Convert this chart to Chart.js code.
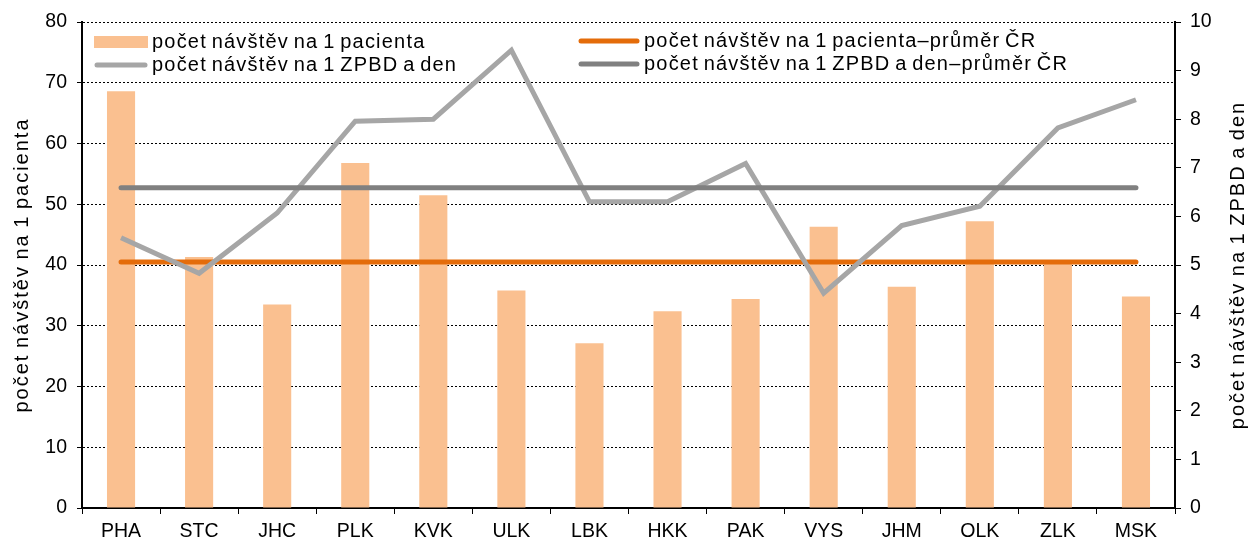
<!DOCTYPE html>
<html>
<head>
<meta charset="utf-8">
<script src="https://cdn.jsdelivr.net/npm/chart.js@4.4.1/dist/chart.umd.min.js"></script>
<style>
  html, body { margin: 0; padding: 0; background: #fff; }
  #wrap { width: 1253px; height: 547px; position: relative; }
</style>
</head>
<body>
<div id="wrap"><canvas id="chart" width="1253" height="547"></canvas></div>
<script>
const categories = ['PHA', 'STC', 'JHC', 'PLK', 'KVK', 'ULK', 'LBK', 'HKK', 'PAK', 'VYS', 'JHM', 'OLK', 'ZLK', 'MSK'];
const visitsPerPatient = [68.6, 41.3, 33.5, 56.8, 51.5, 35.8, 27.1, 32.4, 34.4, 46.3, 36.4, 47.2, 40.3, 34.8];
const visitsPerBedDay = [5.56, 4.83, 6.07, 7.96, 8.0, 9.42, 6.3, 6.3, 7.09, 4.42, 5.81, 6.21, 7.82, 8.4];
const avgPerPatient = 40.5;   // průměr ČR
const avgPerBedDay = 6.59;    // průměr ČR
const leftTicks = [0, 10, 20, 30, 40, 50, 60, 70, 80];
const rightTicks = [0, 1, 2, 3, 4, 5, 6, 7, 8, 9, 10];

const FONT = '"Liberation Sans", Arial, sans-serif';
const BAR = '#fac090';
const ORANGE = '#e46c0a';
const LIGHT_GREY = '#a6a6a6';
const DARK_GREY = '#808080';

const legendItems = [
  { text: 'počet návštěv na 1 pacienta', kind: 'box', color: BAR, x: 94, w: 54, y: 42 },
  { text: 'počet návštěv na 1 ZPBD a den', kind: 'line', color: LIGHT_GREY, x: 94, w: 54, y: 65 },
  { text: 'počet návštěv na 1 pacienta–průměr ČR', kind: 'line', color: ORANGE, x: 578, w: 62, y: 41 },
  { text: 'počet návštěv na 1 ZPBD a den–průměr ČR', kind: 'line', color: DARK_GREY, x: 578, w: 62, y: 64 },
];

// legend + axis titles drawn by hand (2-column legend, both titles read bottom-up)
const extras = {
  id: 'extras',
  afterDraw(chart) {
    const ctx = chart.ctx;
    ctx.save();
    ctx.font = '20px ' + FONT;
    ctx.letterSpacing = '1.2px';
    ctx.wordSpacing = '-2px';
    ctx.textBaseline = 'middle';
    ctx.textAlign = 'left';
    legendItems.forEach(it => {
      if (it.kind === 'box') {
        ctx.fillStyle = it.color;
        ctx.fillRect(it.x, it.y - 6, it.w, 12);
      } else {
        ctx.strokeStyle = it.color;
        ctx.lineWidth = 5;
        ctx.lineCap = 'round';
        ctx.beginPath();
        ctx.moveTo(it.x + 3, it.y);
        ctx.lineTo(it.x + it.w - 3, it.y);
        ctx.stroke();
      }
      ctx.fillStyle = '#000';
      ctx.fillText(it.text, it.x + it.w + 4, it.y);
    });

    const a = chart.chartArea;
    const mid = (a.top + a.bottom) / 2;
    ctx.font = '20px ' + FONT;
    ctx.letterSpacing = '2px';
    ctx.textAlign = 'center';
    [[22, 'počet návštěv na 1 pacienta'], [1238, 'počet návštěv na 1 ZPBD a den']].forEach(([x, t]) => {
      ctx.save();
      ctx.translate(x, mid);
      ctx.rotate(-Math.PI / 2);
      ctx.fillText(t, 0, 0);
      ctx.restore();
    });
    ctx.restore();
  }
};

const tickFont = { family: FONT, size: 19.5 };

new Chart(document.getElementById('chart'), {
  data: {
    labels: categories,
    datasets: [
      {
        type: 'line',
        data: categories.map(() => avgPerBedDay),
        yAxisID: 'y2',
        borderColor: DARK_GREY,
        borderWidth: 5,
        borderCapStyle: 'round',
        pointRadius: 0,
        order: 0,
      },
      {
        type: 'line',
        data: visitsPerBedDay,
        yAxisID: 'y2',
        borderColor: LIGHT_GREY,
        borderWidth: 5,
        pointRadius: 0,
        tension: 0,
        order: 1,
      },
      {
        type: 'line',
        data: categories.map(() => avgPerPatient),
        yAxisID: 'y',
        borderColor: ORANGE,
        borderWidth: 5,
        borderCapStyle: 'round',
        pointRadius: 0,
        order: 2,
      },
      {
        type: 'bar',
        data: visitsPerPatient,
        yAxisID: 'y',
        backgroundColor: BAR,
        barPercentage: 0.36,
        categoryPercentage: 1,
        order: 3,
      },
    ],
  },
  options: {
    responsive: false,
    animation: false,
    layout: { padding: { top: 22, left: 0, right: 0, bottom: 0 } },
    plugins: {
      legend: { display: false },
      tooltip: { enabled: false },
    },
    scales: {
      x: {
        offset: true,
        afterFit: s => { s.height = 39; },
        grid: {
          offset: true,
          drawOnChartArea: false,
          tickLength: 6,
          color: '#000',
        },
        border: { color: '#000', width: 2 },
        ticks: { color: '#000', font: tickFont, padding: 6, maxRotation: 0 },
      },
      y: {
        position: 'left',
        min: 0,
        max: 80,
        afterFit: s => { s.width = 82; },
        afterBuildTicks: s => { s.ticks = leftTicks.map(v => ({ value: v })); },
        grid: {
          color: '#000',
          lineWidth: 1,
          tickBorderDash: [],
          tickLength: 5,
          tickColor: '#000',
        },
        border: { color: '#000', width: 2, dash: [2, 2] },
        ticks: { color: '#000', font: tickFont, padding: 10 },
      },
      y2: {
        position: 'right',
        min: 0,
        max: 10,
        afterFit: s => { s.width = 78; },
        afterBuildTicks: s => { s.ticks = rightTicks.map(v => ({ value: v })); },
        grid: {
          drawOnChartArea: false,
          tickLength: 6,
          color: '#000',
        },
        border: { color: '#000', width: 2 },
        ticks: { color: '#000', font: tickFont, padding: 9 },
      },
    },
  },
  plugins: [extras],
});
</script>
</body>
</html>
